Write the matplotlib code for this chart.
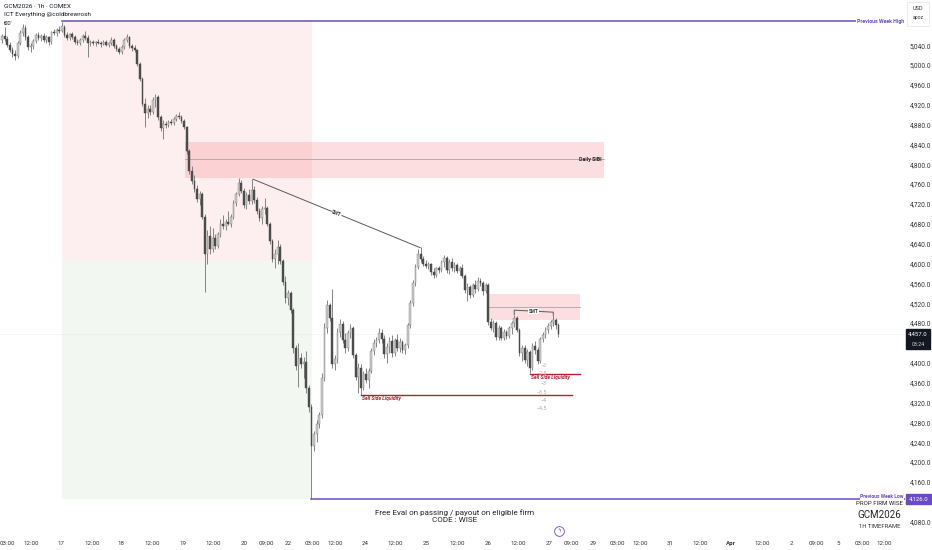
import matplotlib.pyplot as plt
from matplotlib.patches import Rectangle
import numpy as np

plt.rcParams["font.family"] = ["Roboto", "DejaVu Sans"]

# hourly OHLC, GCM2026
opens = [5050, 5058, 5052, 5040, 5030, 5022, 5018, 5044, 5064, 5074, 5056, 5036, 5038, 5048, 5060, 5054, 5058, 5050, 5056, 5046, 5066, 5064, 5070, 5068,
         5076, 5060, 5054, 5062, 5056, 5046, 5044, 5050, 5058, 5054, 5044, 5046, 5044, 5046, 5044, 5042, 5046, 5040, 5044, 5050, 5038, 5032, 5026, 5036, 5050, 5056, 5038, 5034, 5030, 5002,
         4972, 4922, 4904, 4912, 4906, 4930, 4936, 4896, 4874, 4882, 4880, 4886, 4884, 4892, 4898, 4896, 4888, 4876,
         4826, 4786, 4766, 4750, 4730, 4740, 4694, 4620, 4656, 4630, 4652, 4636, 4660, 4680, 4676, 4684, 4680, 4694, 4722, 4740, 4762, 4746, 4718, 4738, 4726, 4748, 4728,
         4706, 4692, 4710, 4712, 4680, 4646, 4610, 4620, 4634, 4606, 4562, 4530, 4540, 4506, 4430, 4394, 4410, 4398, 4402, 4350, 4310,
         4232, 4256, 4276, 4294, 4370, 4470, 4516, 4490, 4398, 4408, 4462, 4478, 4446, 4430, 4460, 4470, 4416, 4372,
         4390, 4350, 4378, 4366, 4384, 4424, 4440, 4446, 4460, 4448, 4418, 4432, 4444, 4420, 4446, 4430, 4442, 4426, 4436, 4476, 4520, 4560, 4594,
         4620, 4610, 4600, 4596, 4600, 4582, 4576, 4590, 4586, 4604, 4612, 4586, 4604, 4590, 4598, 4584, 4590, 4574, 4546, 4552, 4536, 4556, 4548, 4564, 4560, 4544,
         4556, 4482, 4470, 4480, 4452, 4470, 4450, 4462, 4454, 4470, 4480, 4490, 4466, 4420, 4430, 4406, 4422, 4390, 4434, 4426, 4404, 4448, 4456, 4466, 4474, 4482, 4486, 4476]
highs = [5062, 5076, 5058, 5046, 5036, 5030, 5048, 5070, 5082, 5080, 5060, 5044, 5052, 5064, 5066, 5062, 5064, 5060, 5058, 5068, 5072, 5074, 5078, 5086,
         5080, 5066, 5064, 5066, 5060, 5052, 5054, 5062, 5068, 5060, 5050, 5050, 5048, 5052, 5048, 5050, 5050, 5046, 5056, 5054, 5042, 5036, 5040, 5054, 5062, 5058, 5042, 5040, 5032, 5006,
         4976, 4934, 4920, 4920, 4936, 4942, 4940, 4900, 4890, 4888, 4890, 4892, 4896, 4902, 4906, 4900, 4892, 4878,
         4830, 4796, 4778, 4758, 4746, 4744, 4700, 4668, 4676, 4672, 4660, 4664, 4690, 4698, 4690, 4706, 4700, 4728, 4744, 4772, 4768, 4752, 4744, 4750, 4770, 4756, 4734,
         4712, 4716, 4732, 4716, 4684, 4650, 4630, 4648, 4640, 4610, 4574, 4546, 4544, 4510, 4436, 4440, 4420, 4412, 4424, 4356, 4316,
         4262, 4284, 4300, 4380, 4480, 4526, 4520, 4548, 4416, 4470, 4488, 4484, 4460, 4466, 4478, 4474, 4420, 4400,
         4398, 4384, 4390, 4390, 4430, 4448, 4452, 4470, 4468, 4456, 4440, 4452, 4456, 4450, 4458, 4450, 4446, 4440, 4480, 4526, 4566, 4600, 4630,
         4634, 4616, 4608, 4604, 4602, 4590, 4594, 4596, 4608, 4618, 4616, 4610, 4612, 4604, 4602, 4596, 4600, 4578, 4560, 4556, 4560, 4566, 4572, 4570, 4564, 4560,
         4560, 4490, 4486, 4484, 4476, 4474, 4468, 4466, 4474, 4484, 4496, 4494, 4470, 4436, 4436, 4428, 4426, 4440, 4444, 4432, 4452, 4462, 4472, 4480, 4486, 4496, 4490, 4480]
lows = [5044, 5048, 5036, 5026, 5016, 5010, 5014, 5040, 5058, 5050, 5030, 5026, 5032, 5044, 5050, 5048, 5046, 5044, 5040, 5042, 5060, 5058, 5064, 5066,
        5056, 5050, 5050, 5052, 5042, 5040, 5040, 5046, 5050, 5016, 5038, 5040, 5038, 5042, 5036, 5040, 5038, 5036, 5040, 5034, 5028, 5022, 5022, 5032, 5046, 5034, 5028, 5026, 4998, 4968,
        4918, 4876, 4894, 4900, 4902, 4916, 4890, 4868, 4850, 4874, 4876, 4880, 4880, 4888, 4892, 4884, 4872, 4820,
        4780, 4760, 4744, 4724, 4718, 4690, 4542, 4600, 4620, 4624, 4630, 4632, 4654, 4670, 4668, 4678, 4674, 4690, 4716, 4736, 4742, 4712, 4710, 4720, 4720, 4722, 4700,
        4686, 4680, 4700, 4676, 4640, 4604, 4592, 4600, 4600, 4556, 4520, 4516, 4500, 4420, 4386, 4352, 4390, 4370, 4340, 4300, 4126,
        4222, 4240, 4268, 4288, 4364, 4460, 4484, 4390, 4386, 4400, 4452, 4440, 4420, 4424, 4450, 4410, 4366, 4340,
        4336, 4346, 4360, 4350, 4380, 4416, 4432, 4440, 4440, 4410, 4400, 4420, 4412, 4414, 4424, 4422, 4420, 4418, 4430, 4470, 4514, 4554, 4588,
        4604, 4596, 4590, 4588, 4576, 4570, 4572, 4580, 4582, 4594, 4580, 4578, 4584, 4582, 4580, 4576, 4570, 4540, 4524, 4530, 4532, 4540, 4544, 4554, 4536, 4540,
        4476, 4466, 4462, 4446, 4446, 4446, 4446, 4448, 4450, 4458, 4472, 4462, 4414, 4404, 4400, 4394, 4380, 4386, 4418, 4398, 4400, 4442, 4450, 4460, 4468, 4474, 4468, 4452]
closes = [5058, 5052, 5040, 5030, 5022, 5018, 5044, 5064, 5074, 5056, 5036, 5038, 5048, 5060, 5054, 5058, 5050, 5056, 5046, 5066, 5064, 5070, 5068, 5078,
          5060, 5054, 5062, 5056, 5046, 5044, 5050, 5058, 5054, 5044, 5046, 5044, 5046, 5044, 5042, 5046, 5040, 5044, 5050, 5038, 5032, 5026, 5036, 5050, 5056, 5038, 5034, 5030, 5002, 4972,
          4922, 4904, 4912, 4906, 4930, 4936, 4896, 4874, 4882, 4880, 4886, 4884, 4892, 4898, 4896, 4888, 4876, 4826,
          4786, 4766, 4750, 4730, 4740, 4694, 4620, 4656, 4630, 4652, 4636, 4660, 4680, 4676, 4684, 4680, 4694, 4722, 4740, 4762, 4746, 4718, 4738, 4726, 4748, 4728, 4706,
          4692, 4710, 4712, 4680, 4646, 4610, 4620, 4634, 4606, 4562, 4530, 4540, 4506, 4430, 4394, 4410, 4398, 4402, 4350, 4310, 4232,
          4256, 4276, 4294, 4370, 4470, 4516, 4490, 4398, 4408, 4462, 4478, 4446, 4430, 4460, 4470, 4416, 4372, 4390,
          4350, 4378, 4366, 4384, 4424, 4440, 4446, 4460, 4448, 4418, 4432, 4444, 4420, 4446, 4430, 4442, 4426, 4436, 4476, 4520, 4560, 4594, 4620,
          4610, 4600, 4596, 4600, 4582, 4576, 4590, 4586, 4604, 4612, 4586, 4604, 4590, 4598, 4584, 4590, 4574, 4546, 4552, 4536, 4556, 4548, 4564, 4560, 4544, 4556,
          4482, 4470, 4480, 4452, 4470, 4450, 4462, 4454, 4470, 4480, 4490, 4466, 4420, 4430, 4406, 4422, 4390, 4434, 4426, 4404, 4448, 4456, 4466, 4474, 4482, 4486, 4476, 4457]

time_labels = ["03:00", "12:00", "17", "12:00", "18", "12:00", "19", "12:00", "20", "09:00", "22",
               "03:00", "12:00", "24", "12:00", "25", "12:00", "26", "12:00", "27", "09:00", "29",
               "03:00", "12:00", "31", "12:00", "Apr", "12:00", "2", "09:00", "5", "03:00", "12:00"]
time_bars = [1.9, 11.2, 22.7, 34.6, 45.8, 57.7, 69.6, 81.2, 93.1, 101.5, 110,
             119.2, 128.1, 139.6, 151.2, 163.1, 175, 186.9, 198.5, 210.4, 218.8, 227.3,
             236.5, 245.4, 256.9, 268.5, 280.4, 292.3, 303.8, 313.1, 321.5, 330.8, 339.2]

prev_week_high = 5088
prev_week_low = 4126
last_price = 4457
fib_levels = ["\u22122", "\u22122.5", "\u22123", "\u22123.5", "\u22124", "\u22124.5"]
fib_prices = [4394, 4378, 4359, 4341, 4325, 4307]

PURPLE = "#6a4bc4"
RED = "#b7212f"
ZONE_RED = "#f23645"

opens = np.array(opens)
highs = np.array(highs)
lows = np.array(lows)
closes = np.array(closes)
bars = np.arange(len(closes))
up = closes >= opens

fig = plt.figure(figsize=(9.32, 5.5), dpi=100)
ax = fig.add_axes([0, 15 / 550, 905 / 932, 535 / 550])
ax.set_xlim(-0.8, 347.3)
ax.set_ylim(4053, 5131)

# premium / discount zones
ax.add_patch(Rectangle((23.1, 4605), 96.1, prev_week_high - 4605, color="#fdeff0", lw=0, zorder=0))
ax.add_patch(Rectangle((23.1, prev_week_low), 96.1, 4605 - prev_week_low, color="#f2f7f2", lw=0, zorder=0))

# Daily SIBI
ax.add_patch(Rectangle((70.4, 4772), 161.1, 73, color=ZONE_RED, alpha=0.16, lw=0, zorder=1))
ax.plot([70.4, 231.5], [4810, 4810], color="#a6a6a6", lw=0.6, zorder=1)
ax.text(230.6, 4810, "Daily SIBI", fontsize=3.8, fontweight="bold", color="#222",
        ha="right", va="center", zorder=5)

# small FVG on the right
ax.add_patch(Rectangle((186.5, 4486), 35.8, 53, color=ZONE_RED, alpha=0.16, lw=0, zorder=1))
ax.plot([186.5, 222.3], [4512, 4512], color="#a6a6a6", lw=0.6, zorder=1)

# candles
ax.vlines(bars, lows, highs, color="#707070", lw=0.6, zorder=2)
ax.bar(bars[up], (closes - opens)[up], bottom=opens[up], width=0.72,
       color="#cdcdcd", edgecolor="#7d7d7d", lw=0.3, zorder=3)
ax.bar(bars[~up], (opens - closes)[~up], bottom=closes[~up], width=0.72,
       color="#505050", edgecolor="#404040", lw=0.3, zorder=3)

# previous week high / low
ax.plot([23.1, 347.3], [prev_week_high] * 2, color=PURPLE, lw=1.1, zorder=4)
ax.text(346.8, prev_week_high, "Previous Week High", fontsize=3.8, fontweight="bold", color=PURPLE,
        ha="right", va="center", zorder=5,
        bbox=dict(facecolor="white", edgecolor="none", pad=0.6))
ax.plot([119, 347.3], [prev_week_low] * 2, color=PURPLE, lw=1.1, zorder=4)
ax.text(346.8, prev_week_low + 4, "Previous Week Low", fontsize=3.6, fontweight="bold", color=PURPLE,
        ha="right", va="center", zorder=5,
        bbox=dict(facecolor="white", edgecolor="none", pad=0.4))
ax.text(346.5, prev_week_low - 9, "PROP FIRM WISE", fontsize=4.4, color="#222",
        ha="right", va="center", zorder=6)

# SMT lines
ax.plot([96.5, 160.8], [highs[96], highs[161] - 2], color="#5a5a5a", lw=0.7, zorder=4)
ax.text(128.6, 4700, "SMT", fontsize=3.3, fontweight="bold", color="#333", rotation=-22,
        ha="center", va="center", zorder=5,
        bbox=dict(facecolor="white", edgecolor="none", pad=0.3))
ax.plot([197, 197, 212, 212], [highs[197] + 1, 4506, 4502, highs[212]],
        color="#5a5a5a", lw=0.7, zorder=4)
ax.text(204.5, 4504, "SMT", fontsize=3.3, fontweight="bold", color="#333",
        ha="center", va="center", zorder=5,
        bbox=dict(facecolor="white", edgecolor="none", pad=0.3))

# sell side liquidity
ax.plot([138, 219.2], [lows[138]] * 2, color=RED, lw=1.0, zorder=4)
ax.text(138.5, lows[138] - 8, "Sell Side Liquidity", fontsize=3.6, fontweight="bold",
        fontstyle="italic", color=RED, ha="left", va="center", zorder=5)
ax.plot([203, 222.3], [lows[203] - 2] * 2, color=RED, lw=1.0, zorder=4)
ax.text(203.4, lows[203] - 10, "Sell Side Liquidity", fontsize=3.6, fontweight="bold",
        fontstyle="italic", color=RED, ha="left", va="center", zorder=5)
for lab, p in zip(fib_levels, fib_prices):
    ax.text(209.5, p, lab, fontsize=3.8, color="#a8abb4", ha="right", va="center", zorder=4)

# current price line
ax.axhline(last_price, color="#d8d8d8", lw=0.5, ls=(0, (1, 2)), zorder=1)

# watermark texts
ax.text(0.502, 0.036, "Free Eval on passing / payout on eligible firm\nCODE : WISE",
        transform=ax.transAxes, fontsize=5.8, color="#222", ha="center", va="center",
        linespacing=1.2)
ax.text(0.972, 0.038, "GCM2026", transform=ax.transAxes, fontsize=7, color="#222",
        ha="center", va="center")
ax.text(0.972, 0.015, "1H TIMEFRAME", transform=ax.transAxes, fontsize=4.2, color="#333",
        ha="center", va="center")
ax.plot([0.6177], [0.0075], transform=ax.transAxes, marker="o", ms=7, mfc="white",
        mec=PURPLE, mew=0.6, clip_on=False, zorder=6)
ax.text(0.6177, 0.0075, "ϟ", transform=ax.transAxes, fontsize=4, color=PURPLE,
        ha="center", va="center", zorder=7)

# header
ax.text(0.004, 0.987, "GCM2026 · 1h · COMEX", transform=ax.transAxes, fontsize=4.6,
        color="#131722", ha="left", va="center")
ax.text(0.004, 0.972, "ICT Everything @coldbrewrosh", transform=ax.transAxes, fontsize=4.6,
        color="#131722", ha="left", va="center")
ax.text(0.004, 0.957, "t0D'", transform=ax.transAxes, fontsize=3.6,
        color="#131722", ha="left", va="center")

# axes
for s in ax.spines.values():
    s.set_visible(False)
ax.set_xticks(time_bars, time_labels)
ax.tick_params(axis="x", length=0, pad=4.5, labelsize=4.4, labelcolor="#333")
for t in ax.get_xticklabels():
    if t.get_text() == "Apr":
        t.set_fontweight("bold")
ax.yaxis.tick_right()
# 4,440 and 4,120 sit under the price tags
price_ticks = [p for p in range(4080, 5041, 40) if p not in (4120, 4440)]
ax.set_yticks(price_ticks, [f"{p:,.1f}" for p in price_ticks])
ax.tick_params(axis="y", length=0, pad=3.5, labelsize=4.7, labelcolor="#333")

# right axis tags
fig.patches.append(Rectangle((906 / 932, 1 - 349 / 550), 24 / 932, 20 / 550,
                             transform=fig.transFigure, color="#131722", zorder=5))
fig.text(918 / 932, 1 - 334 / 550, "4,457.0", fontsize=4.3, color="white", ha="center", va="center", zorder=6)
fig.text(918 / 932, 1 - 344 / 550, "03:24", fontsize=3.9, color="#cfcfcf", ha="center", va="center", zorder=6)
fig.patches.append(Rectangle((906 / 932, 1 - 504 / 550), 25 / 932, 10 / 550,
                             transform=fig.transFigure, color=PURPLE, zorder=5))
fig.text(918.5 / 932, 1 - 499 / 550, "4,126.0", fontsize=4.3, color="white", ha="center", va="center", zorder=6)
fig.patches.append(Rectangle((907 / 932, 1 - 26 / 550), 22 / 932, 24 / 550,
                             transform=fig.transFigure, facecolor="white", edgecolor="#e0e3eb",
                             lw=0.5, zorder=5))
fig.text(918 / 932, 1 - 8 / 550, "USD", fontsize=4, color="#333", ha="center", va="center", zorder=6)
fig.text(918 / 932, 1 - 18 / 550, "apoz", fontsize=3.6, color="#333", ha="center", va="center", zorder=6)

fig.savefig("out.png", dpi=100)
